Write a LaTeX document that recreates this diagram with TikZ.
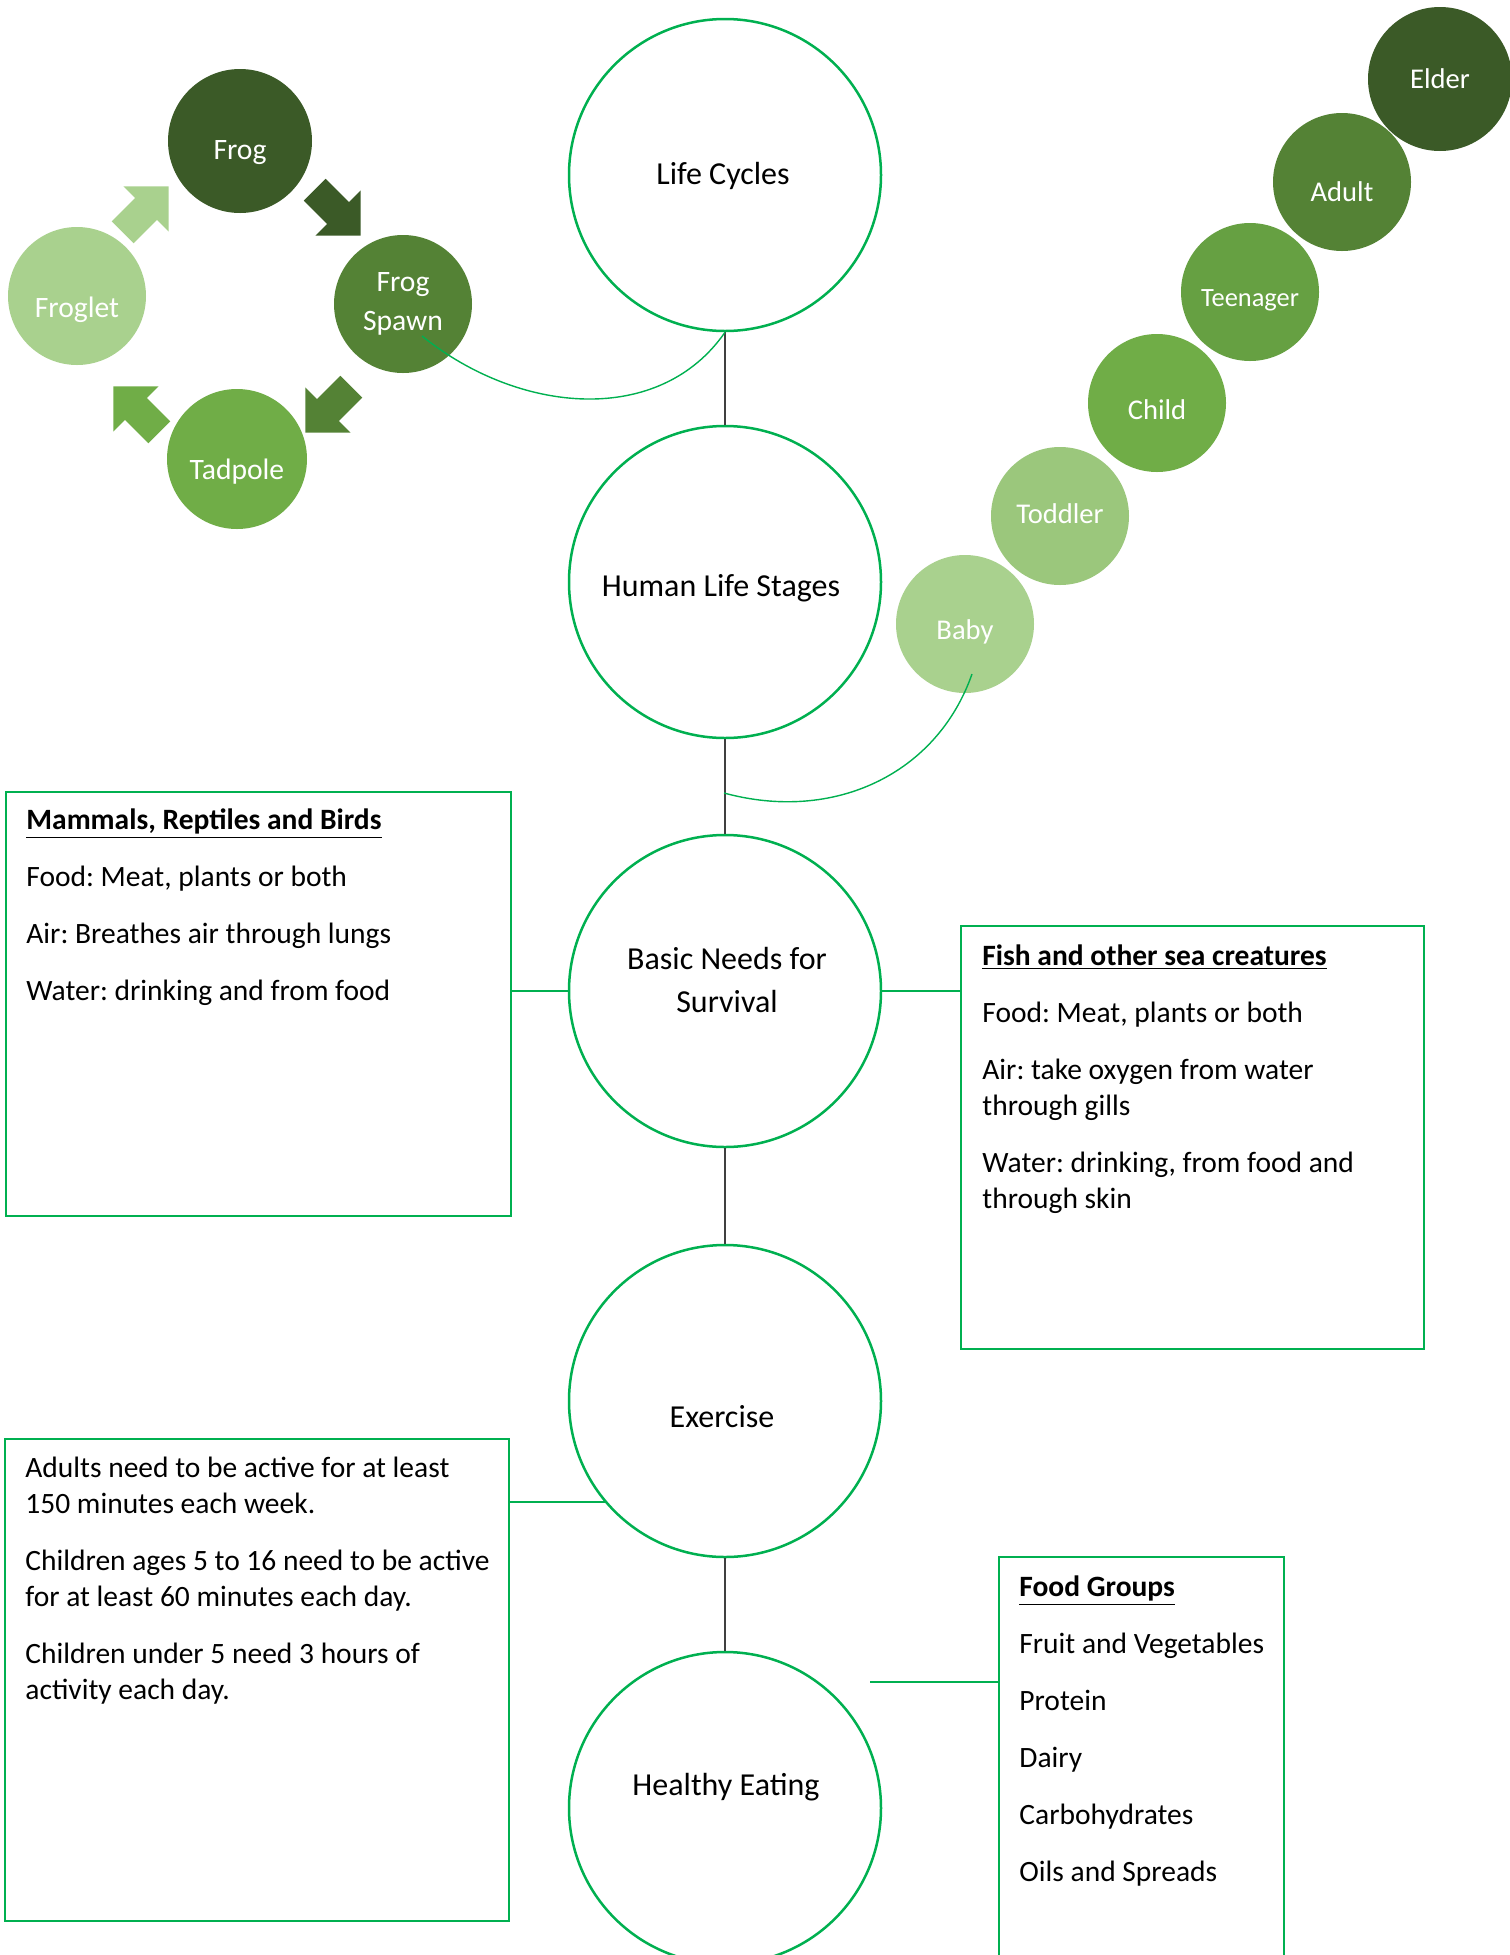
\documentclass[tikz,border=0pt]{standalone}
\usepackage{fontspec}
\setmainfont{Carlito}
\usetikzlibrary{shapes.arrows}
\frenchspacing

\definecolor{leafgreen}{HTML}{00B050}
\definecolor{frogdark}{HTML}{3B5A27}
\definecolor{frogmid}{HTML}{548235}
\definecolor{frogleaf}{HTML}{70AD47}
\definecolor{froglight}{HTML}{A9D18E}
\definecolor{teengreen}{HTML}{66A042}
\definecolor{toddlergreen}{HTML}{9BC77C}
\definecolor{linegray}{HTML}{404040}

\begin{document}
\begin{tikzpicture}[x=0.5pt,y=-0.5pt,
  topic/.style={circle, draw=leafgreen, line width=1.25pt, minimum size=156pt, inner sep=0pt},
  topictext/.style={align=center, inner sep=0pt, font=\fontsize{16}{21}\selectfont},
  stage/.style={circle, fill=#1, text=white, minimum size=70pt, inner sep=0pt, align=center, font=\fontsize{14.8}{19.5}\selectfont},
  human/.style={circle, fill=#1, text=white, minimum size=69pt, inner sep=0pt, font=\fontsize{14.3}{17}\selectfont},
  drop/.style={text height=#1, text depth=0pt},
  blockarrow/.style={single arrow, fill=#1, inner xsep=0pt, inner ysep=7.5pt, minimum height=32.5pt, single arrow head extend=8.25pt, anchor=tip},
  infobox/.style={draw=leafgreen, line width=0.8pt, inner sep=0pt},
  boxtext/.style={anchor=north west, align=left, inner sep=0pt, font=\fontsize{14.75}{18}\selectfont},
  spine/.style={draw=linegray, line width=0.75pt},
  branch/.style={draw=leafgreen, line width=0.8pt},
  link/.style={draw=leafgreen, line width=0.7pt}]

\useasboundingbox (0,0) rectangle (1510,1955);

% Main topic circles
\node[topic] (lc) at (725,175) {};
\node[topic] (hls) at (725,582) {};
\node[topic] (bns) at (725,991) {};
\node[topic] (ex) at (725,1401) {};
\node[topic] (he) at (725,1808) {};

\node[topictext] (lctext) at (723,176) {Life Cycles};
\node[topictext] (hlstext) at (721,588) {Human Life Stages};
\node[topictext] (bnstext) at (727,980) {Basic Needs for\\[0.5pt]Survival};
\node[topictext] (extext) at (722,1417) {Exercise};
\node[topictext] (hetext) at (726,1787) {Healthy Eating};

% Spine between topics
\draw[spine] (lc) -- (hls);
\draw[spine] (hls) -- (bns);
\draw[spine] (bns) -- (ex);
\draw[spine] (ex) -- (he);

% Frog life cycle
\node[stage=frogdark, minimum size=72pt, drop=18pt] (frog) at (240,141) {Frog};
\node[stage=frogmid, minimum size=69pt] (spawn) at (403,304) {Frog\\Spawn};
\node[stage=frogleaf, drop=20.5pt] (tadpole) at (237,459) {Tadpole};
\node[stage=froglight, minimum size=69pt, drop=21.5pt] (froglet) at (77,296) {Froglet};

\node[blockarrow=frogdark, rotate=-45] (frogarrow) at (361,236) {};
\node[blockarrow=frogmid, rotate=-135] (spawnarrow) at (305,433) {};
\node[blockarrow=frogleaf, rotate=135] (tadpolearrow) at (113,386) {};
\node[blockarrow=froglight, rotate=45] (frogletarrow) at (169,186) {};

% Human life stages
\node[human=froglight, drop=15.2pt] (baby) at (965,624) {Baby};
\node[human=toddlergreen, drop=7.2pt] (toddler) at (1060,516) {Toddler};
\node[human=frogleaf, drop=16.2pt] (child) at (1157,403) {Child};
\node[human=teengreen, drop=14.5pt, font=\fontsize{13.2}{16}\selectfont] (teen) at (1250,292) {Teenager};
\node[human=frogmid, drop=19.2pt] (adult) at (1342,182) {Adult};
\node[human=frogdark, minimum size=72pt, drop=9.2pt] (elder) at (1440,79) {Elder};

% Curved links
\coordinate (spawnend) at (422,336);
\coordinate (babyend) at (972,674);
\coordinate (stageend) at (724,793);
\draw[link] (lc.south) .. controls +(-65,94) and +(98,79) .. (spawnend);
\draw[link] (babyend) .. controls +(-35,100) and +(110,30) .. (stageend);

% Info boxes
\node[infobox, minimum width=252.5pt, minimum height=212pt] (mammalsbox) at (258.5,1004) {};
\node[infobox, minimum width=231.5pt, minimum height=211.5pt] (fishbox) at (1192.5,1137.5) {};
\node[infobox, minimum width=252pt, minimum height=241pt] (activebox) at (257,1680) {};
\node[infobox, minimum width=142.5pt, minimum height=216.5pt] (foodbox) at (1141.5,1773.5) {};

\node[boxtext] (mammalstext) at (26,804) {\strut\underline{\textbf{Mammals, Reptiles and Birds}}\\[10.5pt]
  Food: Meat, plants or both\\[10.5pt]
  Air: Breathes air through lungs\\[10.5pt]
  Water: drinking and from food};
\node[boxtext] (fishtext) at (982,940) {\strut\underline{\textbf{Fish and other sea creatures}}\\[10.5pt]
  Food: Meat, plants or both\\[10.5pt]
  Air: take oxygen from water\\
  through gills\\[10.5pt]
  Water: drinking, from food and\\
  through skin};
\node[boxtext] (activetext) at (25,1452) {\strut Adults need to be active for at least\\
  150 minutes each week.\\[10.5pt]
  Children ages 5 to 16 need to be active\\
  for at least 60 minutes each day.\\[10.5pt]
  Children under 5 need 3 hours of\\
  activity each day.};
\node[boxtext] (foodtext) at (1019,1571) {\strut\underline{\textbf{Food Groups}}\\[10.5pt]
  Fruit and Vegetables\\[10.5pt]
  Protein\\[10.5pt]
  Dairy\\[10.5pt]
  Carbohydrates\\[10.5pt]
  Oils and Spreads};

% Box connectors
\coordinate (heend) at (870,1682);
\draw[branch] (bns.west) -- (bns.west -| mammalsbox.east);
\draw[branch] (bns.east) -- (bns.east -| fishbox.west);
\draw[branch] (ex.220) -- (ex.220 -| activebox.east);
\draw[branch] (heend) -- (heend -| foodbox.west);

\end{tikzpicture}
\end{document}
